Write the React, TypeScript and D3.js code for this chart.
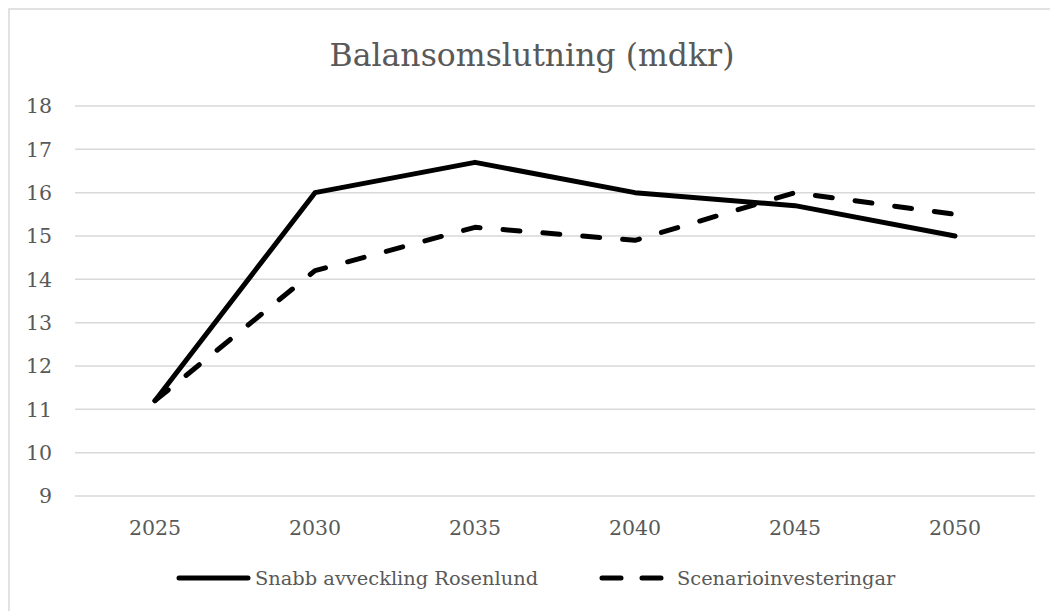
import React from "react";
import * as d3 from "d3";

const categories = ["2025", "2030", "2035", "2040", "2045", "2050"];
const seriesNames = ["Snabb avveckling Rosenlund", "Scenarioinvesteringar"];
const snabbValues = [11.2, 16.0, 16.7, 16.0, 15.7, 15.0];
const scenarioValues = [11.2, 14.2, 15.2, 14.9, 16.0, 15.5];
const yTicks = [9, 10, 11, 12, 13, 14, 15, 16, 17, 18];
const title = "Balansomslutning (mdkr)";

const W = 1050;
const H = 611;
const FONT = "'DejaVu Serif', serif";
const TEXT = "#595959";
const GRID = "#d9d9d9";

export default function App() {
  const x = d3.scaleBand<string>().domain(categories).range([75, 1035]);
  const y = d3.scaleLinear().domain([9, 18]).range([496, 106]);
  const cx = (c: string) => (x(c) as number) + x.bandwidth() / 2;

  const line = d3
    .line<number>()
    .x((_, i) => cx(categories[i]))
    .y((v) => y(v));

  return (
    <svg
      width={W}
      height={H}
      style={{ position: "absolute", left: 0, top: 0, display: "block", background: "#fff" }}
    >
      <rect x={9} y={9} width={W} height={H} fill="#fff" stroke={GRID} strokeWidth={1.5} />
      <text x={532} y={66} textAnchor="middle" fontFamily={FONT} fontSize={31.5} fill={TEXT}>
        {title}
      </text>
      {yTicks.map((t) => (
        <g key={t}>
          <line x1={75} x2={1035} y1={y(t)} y2={y(t)} stroke={GRID} strokeWidth={1.5} />
          <text
            x={52}
            y={y(t)}
            dy="0.36em"
            textAnchor="end"
            fontFamily={FONT}
            fontSize={20.5}
            fill={TEXT}
          >
            {t}
          </text>
        </g>
      ))}
      {categories.map((c) => (
        <text key={c} x={cx(c)} y={535} textAnchor="middle" fontFamily={FONT} fontSize={20.5} fill={TEXT}>
          {c}
        </text>
      ))}
      <path
        d={line(snabbValues) || ""}
        fill="none"
        stroke="#000"
        strokeWidth={5}
        strokeLinejoin="round"
        strokeLinecap="round"
      />
      <path
        d={line(scenarioValues) || ""}
        fill="none"
        stroke="#000"
        strokeWidth={5}
        strokeLinejoin="round"
        strokeLinecap="round"
        strokeDasharray="17,23"
      />
      <g>
        <line x1={179} x2={248} y1={578} y2={578} stroke="#000" strokeWidth={5} strokeLinecap="round" />
        <text x={255} y={585} fontFamily={FONT} fontSize={19.4} fill={TEXT}>
          {seriesNames[0]}
        </text>
        <line
          x1={602}
          x2={662}
          y1={578}
          y2={578}
          stroke="#000"
          strokeWidth={5}
          strokeLinecap="round"
          strokeDasharray="19,21"
        />
        <text x={677} y={585} fontFamily={FONT} fontSize={19.4} fill={TEXT}>
          {seriesNames[1]}
        </text>
      </g>
    </svg>
  );
}
